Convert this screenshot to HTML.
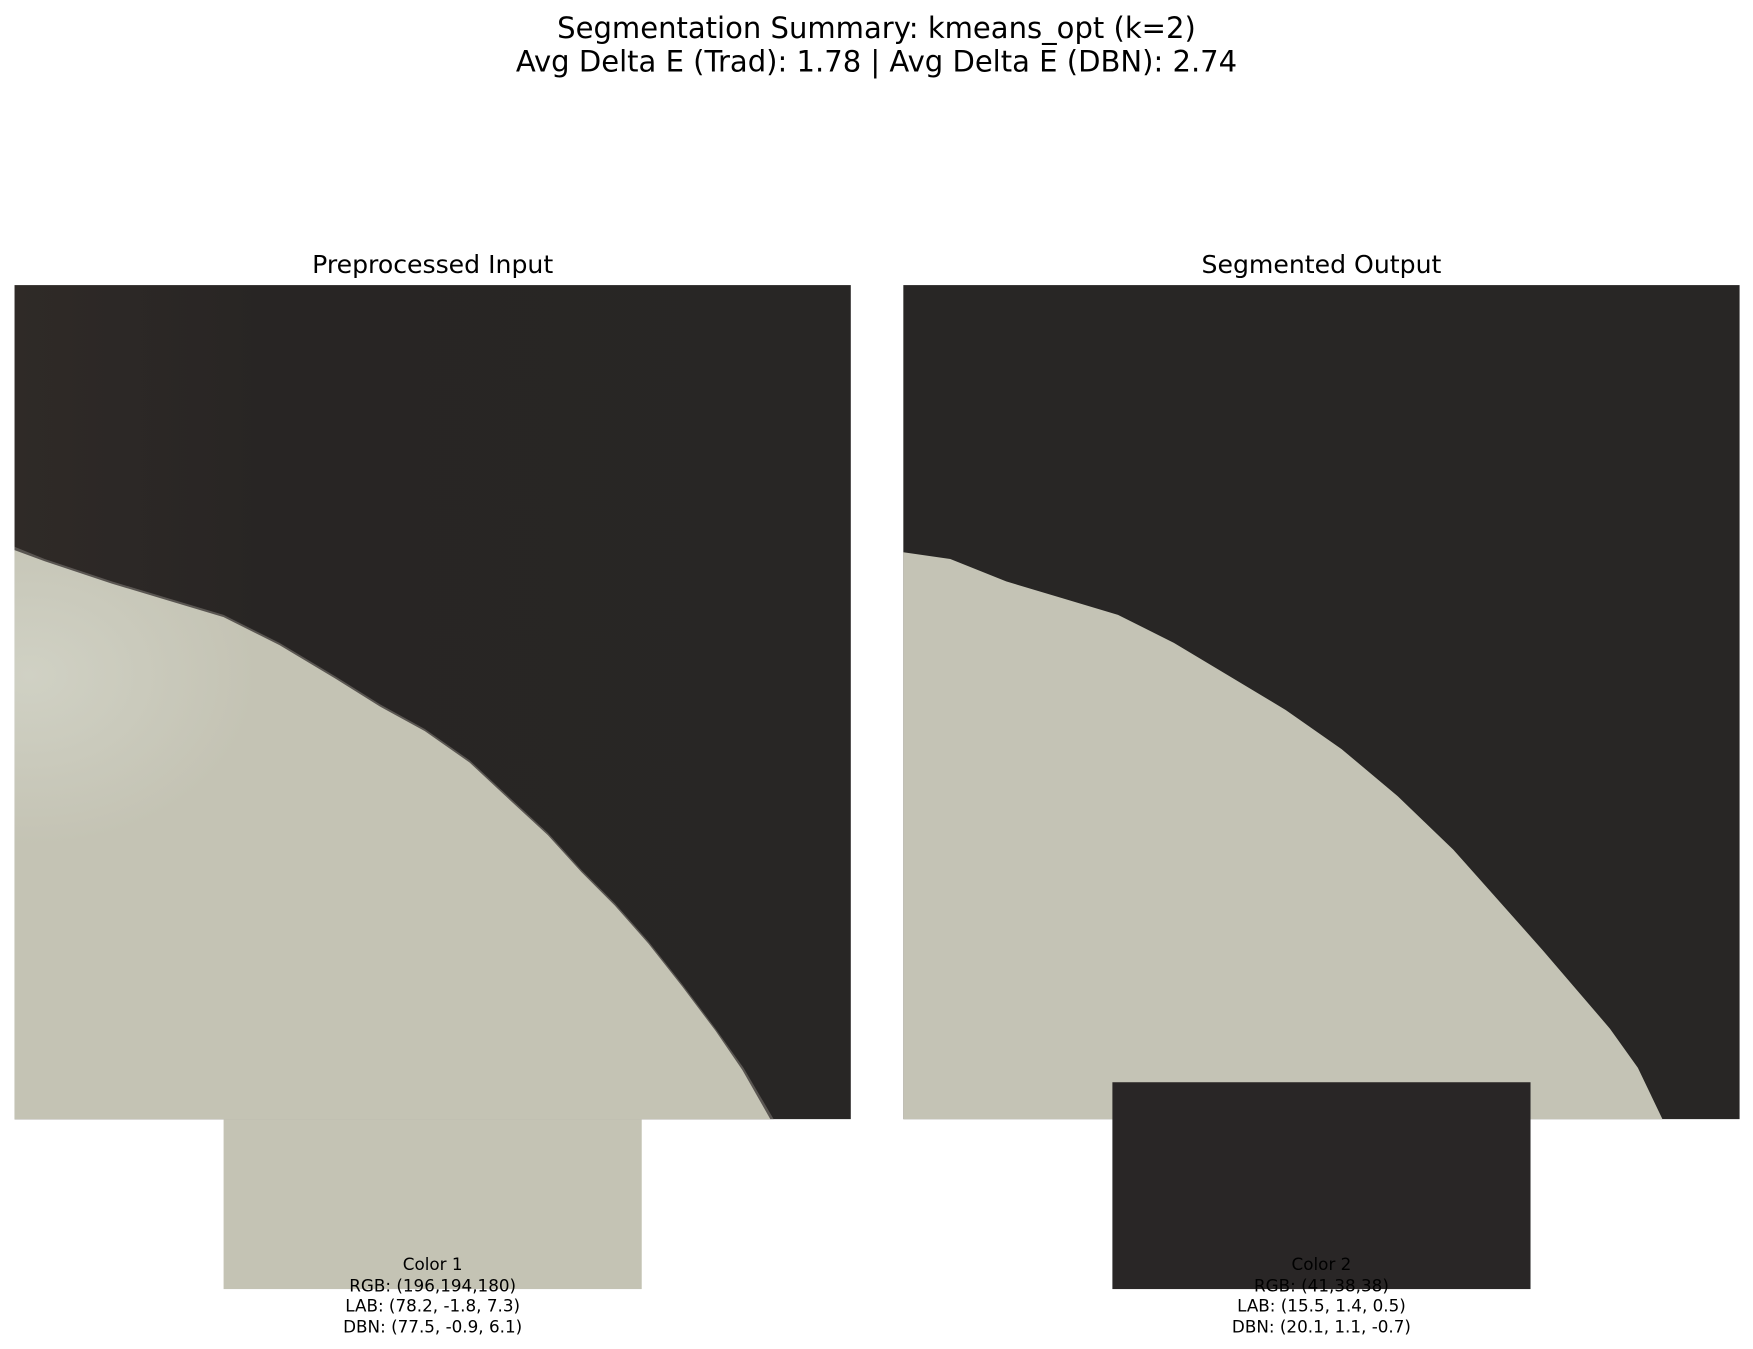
<!DOCTYPE html>
<html><head><meta charset="utf-8"><style>
html,body{margin:0;padding:0;background:#fff;}
svg{display:block;font-family:"DejaVu Sans","Liberation Sans",sans-serif;}
</style></head><body>
<svg width="1753" height="1349" viewBox="0 0 1568 1206.6" preserveAspectRatio="none">
<defs>
<radialGradient id="glow" cx="0.02" cy="0.22" r="0.3">
<stop offset="0" stop-color="#d0d1c4"/><stop offset="1" stop-color="#c4c3b4"/>
</radialGradient>
<linearGradient id="darkL" x1="0" y1="0" x2="1" y2="0">
<stop offset="0" stop-color="#2f2a27"/><stop offset="0.3" stop-color="#282524"/><stop offset="1" stop-color="#282625"/>
</linearGradient>
</defs>
<text x="784" y="34" text-anchor="middle" font-size="26" fill="#000">Segmentation Summary: kmeans_opt (k=2)</text>
<text x="784" y="64" text-anchor="middle" font-size="26" fill="#000">Avg Delta E (Trad): 1.78 | Avg Delta E (DBN): 2.74</text>

<text x="387" y="244" text-anchor="middle" font-size="22.5" fill="#000">Preprocessed Input</text>
<g>
<rect x="13" y="255" width="748" height="746" fill="url(#darkL)"/>
<path d="M13,489 L40,500 L100,520 L150,535 L200,550 L250,575 L300,605 L340,630 L380,652 L420,680 L450,708 L490,745 L520,778 L550,808 L580,842 L610,880 L640,920 L665,955 L692,1001 L13,1001 Z" fill="#5a5652"/>
<path d="M13,492 L40,502 L100,522 L150,537 L200,552 L250,577 L300,607 L340,632 L380,654 L420,682 L450,710 L490,747 L520,780 L550,810 L580,844 L610,882 L640,922 L664,957 L689,1001 L13,1001 Z" fill="url(#glow)"/>
</g>

<text x="1182" y="244" text-anchor="middle" font-size="22.5" fill="#000">Segmented Output</text>
<g>
<rect x="808" y="255" width="748" height="746" fill="#282625"/>
<path d="M808,494 L850,500 L900,520 L950,535 L1000,550 L1050,575 L1100,605 L1150,635 L1200,670 L1250,712 L1300,760 L1340,805 L1380,850 L1410,885 L1440,920 L1465,955 L1487,1001 L808,1001 Z" fill="#c4c3b5"/>
</g>

<rect x="200" y="1001" width="374" height="152" fill="#c4c3b4"/>
<rect x="995" y="968" width="374" height="185" fill="#292626"/>

<g font-size="15" fill="#000" text-anchor="middle">
<text x="387" y="1136">Color 1</text>
<text x="387" y="1155">RGB: (196,194,180)</text>
<text x="387" y="1173">LAB: (78.2, -1.8, 7.3)</text>
<text x="387" y="1192">DBN: (77.5, -0.9, 6.1)</text>
</g>
<g font-size="15" fill="#000" text-anchor="middle">
<text x="1182" y="1136">Color 2</text>
<text x="1182" y="1155">RGB: (41,38,38)</text>
<text x="1182" y="1173">LAB: (15.5, 1.4, 0.5)</text>
<text x="1182" y="1192">DBN: (20.1, 1.1, -0.7)</text>
</g>
</svg>
</body></html>
